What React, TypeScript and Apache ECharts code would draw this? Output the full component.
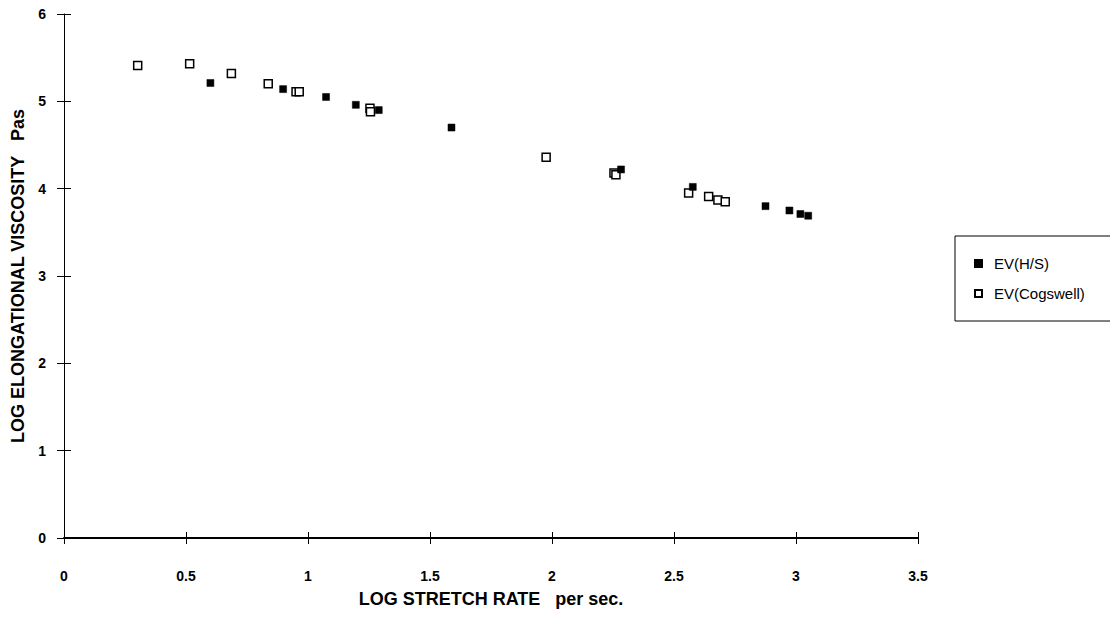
import React, { useEffect, useRef } from "react";
import * as echarts from "echarts";

const hsX = [0.6, 0.898, 1.074, 1.196, 1.29, 1.588, 2.283, 2.577, 2.875, 2.973, 3.018, 3.05];
const hsY = [5.21, 5.14, 5.05, 4.96, 4.9, 4.7, 4.22, 4.02, 3.8, 3.75, 3.71, 3.69];

const cogX = [0.302, 0.515, 0.686, 0.837, 0.951, 0.964, 1.254, 1.256, 1.976, 2.254, 2.262, 2.56, 2.642, 2.68, 2.71];
const cogY = [5.41, 5.43, 5.32, 5.2, 5.11, 5.11, 4.92, 4.88, 4.36, 4.18, 4.16, 3.95, 3.91, 3.87, 3.85];

const xTicks = [0, 0.5, 1, 1.5, 2, 2.5, 3, 3.5];
const seriesNames = ["EV(H/S)", "EV(Cogswell)"];

const FONT = "'Liberation Sans', Arial, sans-serif";

export default function App() {
  const ref = useRef<HTMLDivElement>(null);
  useEffect(() => {
    if (!ref.current) return;
    const chart = echarts.init(ref.current, undefined, { renderer: "svg" });
    const labelStyle = {
      color: "#000",
      fontFamily: FONT,
      fontWeight: "bold" as const,
      fontSize: 14,
    };
    const titleStyle = {
      color: "#000",
      fontFamily: FONT,
      fontWeight: "bold" as const,
      fontSize: 18,
    };
    const xBase = {
      type: "value" as const,
      min: xTicks[0],
      max: xTicks[xTicks.length - 1],
      interval: 0.5,
      position: "bottom" as const,
      splitLine: { show: false },
    };
    const yBase = {
      type: "value" as const,
      min: 0,
      max: 6,
      interval: 1,
      position: "left" as const,
      splitLine: { show: false },
    };
    chart.setOption({
      animation: false,
      backgroundColor: "#fff",
      grid: { left: 64, right: 192, top: 14, bottom: 79, containLabel: false },
      xAxis: [
        {
          ...xBase,
          name: "LOG STRETCH RATE   per sec.",
          nameLocation: "middle",
          nameGap: 52,
          nameTextStyle: titleStyle,
          axisLine: { show: true, onZero: false, lineStyle: { color: "#000", width: 2 } },
          axisTick: { show: true, inside: false, length: 6, lineStyle: { color: "#000", width: 1 } },
          axisLabel: { ...labelStyle, margin: 31, formatter: (v: number) => String(v) },
        },
        {
          ...xBase,
          axisLine: { show: false },
          axisTick: { show: true, inside: true, length: 6, lineStyle: { color: "#000", width: 1 } },
          axisLabel: { show: false },
        },
      ],
      yAxis: [
        {
          ...yBase,
          name: "LOG ELONGATIONAL VISCOSITY   Pas",
          nameLocation: "middle",
          nameGap: 36,
          nameRotate: 90,
          nameTextStyle: titleStyle,
          axisLine: { show: true, onZero: false, lineStyle: { color: "#000", width: 1 } },
          axisTick: { show: true, inside: false, length: 7, lineStyle: { color: "#000", width: 1 } },
          axisLabel: { ...labelStyle, margin: 18 },
        },
        {
          ...yBase,
          axisLine: { show: false },
          axisTick: { show: true, inside: true, length: 7, lineStyle: { color: "#000", width: 1 } },
          axisLabel: { show: false },
        },
      ],
      legend: {
        orient: "vertical",
        left: 955,
        top: 236,
        data: seriesNames,
        itemWidth: 7,
        itemHeight: 7,
        itemGap: 15,
        borderColor: "#000",
        borderWidth: 1,
        borderRadius: 0,
        padding: [20, 40, 20, 19],
        textStyle: { color: "#000", fontFamily: FONT, fontSize: 15, padding: [0, 0, 0, 7] },
      },
      series: [
        {
          name: seriesNames[0],
          type: "scatter",
          symbol: "rect",
          symbolSize: 7,
          itemStyle: { color: "#000", borderColor: "#000", borderWidth: 0.5, opacity: 1 },
          data: hsX.map((x, i) => [x, hsY[i]]),
          z: 3,
        },
        {
          name: seriesNames[1],
          type: "scatter",
          symbol: "rect",
          symbolSize: 8,
          itemStyle: { color: "#fff", borderColor: "#000", borderWidth: 1.5, opacity: 1 },
          data: cogX.map((x, i) => [x, cogY[i]]),
          z: 2,
        },
      ],
    });
    return () => chart.dispose();
  }, []);
  return (
    <div
      ref={ref}
      style={{ position: "fixed", left: 0, top: 0, width: 1110, height: 617, background: "#fff" }}
    />
  );
}
